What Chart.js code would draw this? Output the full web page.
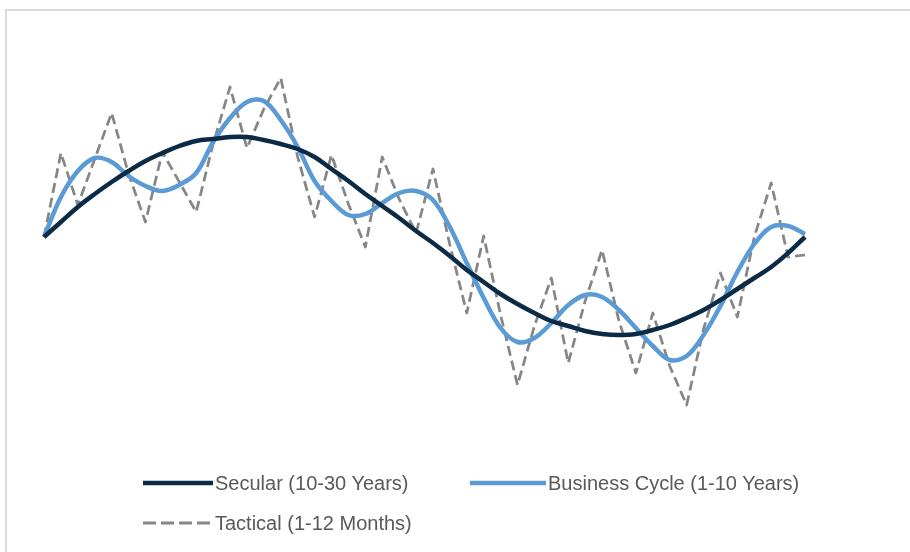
<!DOCTYPE html>
<html>
<head>
<meta charset="utf-8">
<script src="https://cdn.jsdelivr.net/npm/chart.js@4/dist/chart.umd.min.js"></script>
<style>
  html, body { margin: 0; padding: 0; background: #fff; }
  #wrap { position: relative; width: 910px; height: 552px; overflow: hidden; }
  #frame { position: absolute; left: 5px; top: 9px; right: -10px; bottom: -10px;
           border-top: 2px solid #d9d9d9; border-left: 2px solid #d9d9d9; }
  #c { position: absolute; left: 0; top: 0; }
  .lg { position: absolute; font-family: "Liberation Sans", Arial, sans-serif;
        font-size: 20px; color: #595959; line-height: 22px; white-space: nowrap; }
  .lg svg { position: absolute; }
</style>
</head>
<body>
<div id="wrap">
  <div id="frame"></div>
  <canvas id="c" width="910" height="552"></canvas>
  <div id="legend"></div>
</div>
<script>
// ---- data ----
const periods = Array.from({length: 46}, (_, i) => String(i + 1));
const seriesNames = ["Secular (10-30 Years)", "Business Cycle (1-10 Years)", "Tactical (1-12 Months)"];
const secular = [0, 1.5, 3.0, 4.3, 5.5, 6.6, 7.6, 8.4, 9.1, 9.6, 9.8, 10.0, 10.0, 9.7, 9.3, 8.8,
  8.0, 6.8, 5.6, 4.3, 3.1, 1.9, 0.6, -0.6, -1.9, -3.3, -4.5, -5.7, -6.7, -7.6, -8.4, -8.9,
  -9.4, -9.7, -9.8, -9.7, -9.3, -8.8, -8.1, -7.3, -6.3, -5.2, -4.1, -3.0, -1.6, 0.0];
const businessCycle = [0, 4.0, 6.6, 7.9, 7.5, 6.1, 5.1, 4.6, 5.2, 6.4, 9.5, 11.9, 13.5, 13.6, 11.7, 9.0,
  5.6, 3.6, 2.2, 2.3, 3.4, 4.4, 4.6, 3.7, 1.0, -2.6, -6.1, -9.1, -10.5, -10.1, -8.6, -6.8,
  -5.8, -6.0, -7.3, -9.1, -10.9, -12.3, -11.9, -9.8, -6.9, -3.5, -0.7, 1.0, 1.1, 0.3];
const tactical = [0, 8.4, 3.2, 7.8, 12.4, 6.3, 1.5, 8.5, 5.5, 2.5, 9.3, 15.0, 8.9, 12.8, 15.9, 8.0,
  2.0, 8.2, 3.3, -1.0, 8.0, 3.8, 0.4, 6.8, -0.8, -7.6, 0.1, -7.8, -14.8, -8.9, -4.1, -12.6,
  -6.4, -1.3, -8.4, -13.6, -7.6, -12.9, -16.8, -9.2, -3.6, -8.0, 0.0, 5.4, -2.0, -1.8];
const yMin = -20, yMax = 22;

// ---- styles ----
const colors = ["#0b2a45", "#5b9bd5", "#868686"];
const widths = [4.5, 4.5, 2.75];
const dashes = [[], [], [10, 5]];
const tensions = [0.4, 0.35, 0];

const seriesData = [secular, businessCycle, tactical];
const datasets = seriesData.map((d, i) => ({
  label: seriesNames[i],
  data: d,
  borderColor: colors[i],
  backgroundColor: colors[i],
  borderWidth: widths[i],
  borderDash: dashes[i],
  tension: tensions[i],
  pointRadius: 0,
  pointHoverRadius: 0,
  fill: false,
  clip: 10,
  borderCapStyle: 'butt',
  borderJoinStyle: 'round'
}));
datasets[0].order = 1;
datasets[1].order = 2;
datasets[2].order = 3;

new Chart(document.getElementById('c'), {
  type: 'line',
  data: { labels: periods, datasets },
  options: {
    responsive: false,
    animation: false,
    layout: { padding: { left: 44, right: 105, top: 17, bottom: 115 } },
    plugins: { legend: { display: false }, tooltip: { enabled: false } },
    scales: {
      x: { display: false, offset: false },
      y: { display: false, min: yMin, max: yMax }
    }
  }
});

// ---- HTML legend ----
const legendPos = [
  { x: 143, y: 483, w: 70 },
  { x: 470, y: 483, w: 76 },
  { x: 143, y: 523, w: 70 }
];
const lg = document.getElementById('legend');
seriesNames.forEach((name, i) => {
  const p = legendPos[i];
  const el = document.createElement('div');
  el.className = 'lg';
  el.style.left = p.x + 'px';
  el.style.top = (p.y - 11) + 'px';
  el.style.paddingLeft = (p.w + 2) + 'px';
  const dash = dashes[i].length ? 'stroke-dasharray="13,5"' : '';
  el.innerHTML = '<svg width="' + p.w + '" height="22" style="left:0;top:0">' +
    '<line x1="0" y1="11" x2="' + p.w + '" y2="11" stroke="' + colors[i] + '" stroke-width="' +
    (i === 2 ? 3 : 4.5) + '" ' + dash + '/></svg>' + name;
  lg.appendChild(el);
});
</script>
</body>
</html>
